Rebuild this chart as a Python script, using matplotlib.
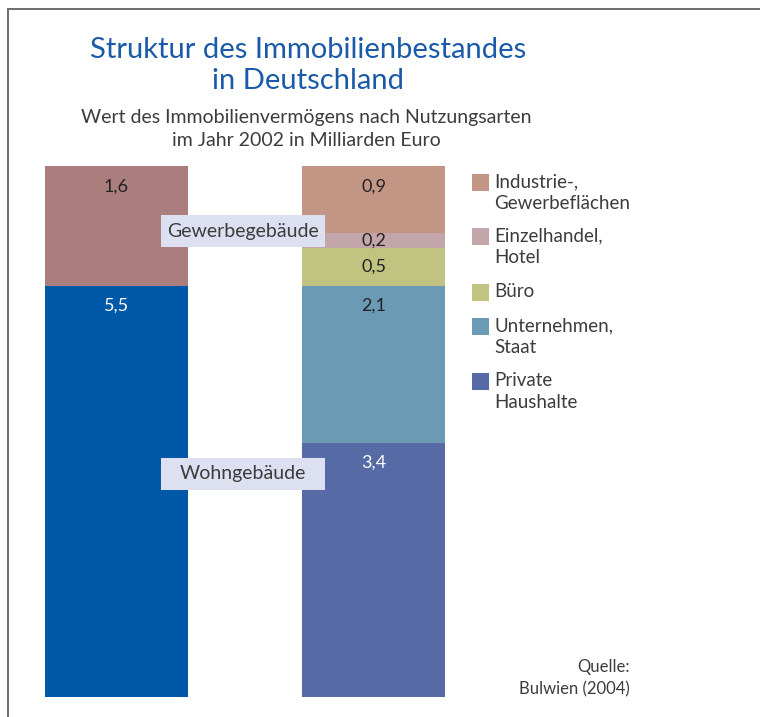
import matplotlib
matplotlib.use("Agg")
import matplotlib.pyplot as plt
from matplotlib.patches import Rectangle
from matplotlib.lines import Line2D

# ---- data ----
bar_names = ["Gebäudeart", "Nutzer"]
left_labels = ["Wohngebäude", "Gewerbegebäude"]
left_values = [5.5, 1.6]
left_colors = ["#0058a8", "#ab7e7e"]
left_text_colors = ["white", "#222222"]

right_labels = ["Private\nHaushalte", "Unternehmen,\nStaat", "Büro", "Einzelhandel,\nHotel",
                "Industrie-,\nGewerbeflächen"]
right_values = [3.4, 2.1, 0.5, 0.2, 0.9]
right_colors = ["#566aa5", "#6b9ab5", "#c0c480", "#c3a6aa", "#c39585"]
right_text_colors = ["white", "#222222", "#222222", "#222222", "#222222"]

W, H = 760, 717
fig = plt.figure(figsize=(W / 100, H / 100), dpi=100)
FONT = "Lato"
TXT = "#3c3c3c"

def fx(px):
    return px / W

def fy(py):
    return 1 - py / H

# frame
fig.add_artist(Line2D([fx(8), fx(8)], [fy(9), 0], color="#6e6e6e", lw=1.4))
fig.add_artist(Line2D([fx(8), 1], [fy(9), fy(9)], color="#6e6e6e", lw=1.4))

# axes
ax = fig.add_axes([fx(45), 1 - 697 / H, (445 - 45) / W, 531 / H])
width = 143 / 257
ax.set_xlim(-width / 2, 1 + width / 2)
total = sum(left_values)
ax.set_ylim(0, total)
ax.axis("off")

def stack(x, values, colors, tcolors):
    bottom = 0
    for v, c, tc in zip(values, colors, tcolors):
        ax.bar(x, v, width=width, bottom=bottom, color=c, linewidth=0)
        top = bottom + v
        ty = max(top - 0.27, bottom + v / 2)
        ax.text(x, ty, f"{v:.1f}".replace(".", ","), ha="center", va="center",
                color=tc, fontsize=13, family=FONT)
        bottom = top

stack(0, left_values, left_colors, left_text_colors)
stack(1, right_values, right_colors, right_text_colors)

# label boxes for left categories
for lab, ypx in [("Gewerbegebäude", 231), ("Wohngebäude", 474)]:
    fig.add_artist(Rectangle((fx(161), fy(ypx + 16)), (325 - 161) / W, 32 / H,
                             transform=fig.transFigure, color="#dde0f0", lw=0))
    fig.text(fx(243), fy(ypx), lab, ha="center", va="center", fontsize=14,
             color=TXT, family=FONT)

# titles
fig.text(fx(308), fy(50), "Struktur des Immobilienbestandes", ha="center", va="center",
         fontsize=21, color="#1a5aa8", family=FONT)
fig.text(fx(308), fy(81), "in Deutschland", ha="center", va="center",
         fontsize=21, color="#1a5aa8", family=FONT)
fig.text(fx(306), fy(117), "Wert des Immobilienvermögens nach Nutzungsarten", ha="center",
         va="center", fontsize=14, color=TXT, family=FONT)
fig.text(fx(306), fy(141), "im Jahr 2002 in Milliarden Euro", ha="center",
         va="center", fontsize=14, color=TXT, family=FONT)

# legend (top to bottom)
leg_y = [174, 228, 284, 318, 373]
for lab, col, y in zip(right_labels[::-1], right_colors[::-1], leg_y):
    fig.add_artist(Rectangle((fx(472), fy(y + 17)), 17 / W, 17 / H,
                             transform=fig.transFigure, color=col, lw=0))
    fig.text(fx(494), fy(y - 1), lab, ha="left", va="top", fontsize=13.5,
             color=TXT, family=FONT, linespacing=1.38)

# source
fig.text(fx(630), fy(667), "Quelle:", ha="right", va="center", fontsize=12,
         color=TXT, family=FONT)
fig.text(fx(630), fy(689), "Bulwien (2004)", ha="right", va="center", fontsize=12,
         color=TXT, family=FONT)

fig.savefig("out.png", dpi=100)
